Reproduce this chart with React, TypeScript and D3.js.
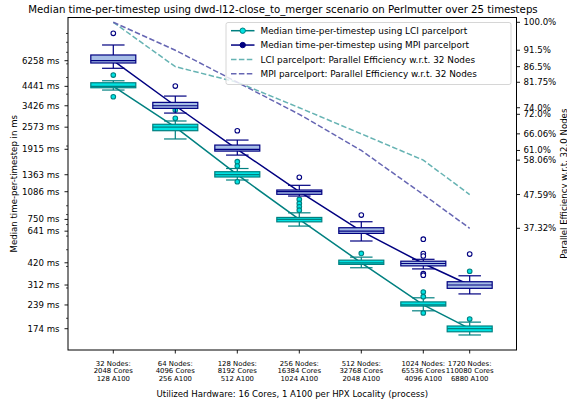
import React from "react";
import * as d3 from "d3";

// ---------- data ----------
const nodes = [32, 64, 128, 256, 512, 1024, 1720];
const cores = [2048, 4096, 8192, 16384, 32768, 65536, 110080];
const gpus = [128, 256, 512, 1024, 2048, 4096, 6880];

const lciMedian = [4441, 2573, 1363, 750, 420, 239, 174];
const lciQ1 = [4359, 2455, 1322, 726, 411, 235.5, 167];
const lciQ3 = [4660, 2675, 1419, 770, 435, 249, 180.4];
const lciWhiskLo = [4227, 2198, 1270, 686, 393, 221, 160];
const lciWhiskHi = [4786, 2795, 1481, 819, 453, 263, 190];
const lciOutliers = [
  [5165, 3864],
  [3238, 2898],
  [1622, 1531, 1241],
  [980, 929, 888, 849],
  [476],
  [284, 267, 215],
  [375, 198],
];

const mpiMedian = [6258, 3426, 1915, 1086, 641, 416, 312];
const mpiQ1 = [6068, 3309, 1869, 1049, 622, 403, 298.5];
const mpiQ3 = [6754, 3585, 2026, 1111, 671, 429, 326];
const mpiWhiskLo = [5654, 3107, 1772, 1025, 562, 387, 277];
const mpiWhiskHi = [7720, 3900, 2166, 1183, 727, 440, 353];
const mpiOutliers = [[9028], [4459], [2453], [1317], [795], [576, 475, 460, 363, 356], [472]];

const lciEff = [100, 86.5, 81.75, 74.0, 66.06, 58.06, 47.59];
const mpiEff = [100, 91.5, 81.75, 72.0, 61.0, 47.59, 37.32];

const timeTicks = [6258, 4441, 3426, 2573, 1915, 1363, 1086, 750, 641, 420, 312, 239, 174];
const effTicks = [100.0, 91.5, 86.5, 81.75, 74.0, 72.0, 66.06, 61.0, 58.06, 47.59, 37.32];
const effTickLabels = ["100.0%", "91.5%", "86.5%", "81.75%", "74.0%", "72.0%", "66.06%", "61.0%", "58.06%", "47.59%", "37.32%"];

const legendLabels = [
  "Median time-per-timestep using LCI parcelport",
  "Median time-per-timestep using MPI parcelport",
  "LCI parcelport: Parallel Efficiency w.r.t. 32 Nodes",
  "MPI parcelport: Parallel Efficiency w.r.t. 32 Nodes",
];

// ---------- layout ----------
const W = 567, H = 403;
const L = 68, R = 516.5, T = 17.5, B = 350;
const FONT = "DejaVu Sans";
const TEAL = "#008080", CYAN = "#00e3e3", NAVY = "#000080", LBLUE = "#a6bde6";
const TEAL_D = "#66b3b3", NAVY_D = "#6666b3";

const x = d3.scaleLinear().domain([5, 10]).range([113.3, 423.3]);
const y = d3.scaleLog().domain([130.9, 11148]).range([B, T]);
const y2 = d3.scaleLinear().domain([0.29, 101.46]).range([B, T]);
const px = (n: number) => x(Math.log2(n));

const BOXW = 45;

function Boxes(props: {
  med: number[]; q1: number[]; q3: number[]; lo: number[]; hi: number[]; out: number[][];
  edge: string; fill: string; outFill: string;
}) {
  const { med, q1, q3, lo, hi, out, edge, fill, outFill } = props;
  return (
    <g>
      {nodes.map((n, i) => {
        const cx = px(n);
        return (
          <g key={i}>
            <line x1={cx} x2={cx} y1={y(q3[i])} y2={y(hi[i])} stroke={edge} strokeWidth={1.2} />
            <line x1={cx} x2={cx} y1={y(q1[i])} y2={y(lo[i])} stroke={edge} strokeWidth={1.2} />
            <line x1={cx - BOXW / 4} x2={cx + BOXW / 4} y1={y(hi[i])} y2={y(hi[i])} stroke={edge} strokeWidth={1.2} />
            <line x1={cx - BOXW / 4} x2={cx + BOXW / 4} y1={y(lo[i])} y2={y(lo[i])} stroke={edge} strokeWidth={1.2} />
            <rect x={cx - BOXW / 2} y={y(q3[i])} width={BOXW} height={y(q1[i]) - y(q3[i])} fill={fill} stroke={edge} strokeWidth={1.2} />
            <line x1={cx - BOXW / 2} x2={cx + BOXW / 2} y1={y(med[i])} y2={y(med[i])} stroke={edge} strokeWidth={1.2} />
            {out[i].map((v, j) => (
              <circle key={j} cx={cx} cy={y(v)} r={2.3} fill={outFill} stroke={edge} strokeWidth={1.1} />
            ))}
          </g>
        );
      })}
    </g>
  );
}

export default function App() {
  const medLine = d3.line<number>().x((_, i) => px(nodes[i])).y((v) => y(v));
  const effLine = d3.line<number>().x((_, i) => px(nodes[i])).y((v) => y2(v));
  const minor = y.ticks().filter((v) => Math.abs(Math.log10(v) - Math.round(Math.log10(v))) > 1e-9);

  return (
    <svg width={W} height={H} style={{ position: "absolute", left: 0, top: 0 }} fontFamily={FONT}>
      <rect width={W} height={H} fill="white" />
      <text x={283} y={12.5} fontSize={10.2} textAnchor="middle">
        Median time-per-timestep using dwd-l12-close_to_merger scenario on Perlmutter over 25 timesteps
      </text>

      {/* median lines */}
      <path d={medLine(lciMedian) || ""} fill="none" stroke={TEAL} strokeWidth={1.5} />
      <path d={medLine(mpiMedian) || ""} fill="none" stroke={NAVY} strokeWidth={1.5} />

      <Boxes med={lciMedian} q1={lciQ1} q3={lciQ3} lo={lciWhiskLo} hi={lciWhiskHi} out={lciOutliers}
        edge={TEAL} fill={CYAN} outFill={CYAN} />
      <Boxes med={mpiMedian} q1={mpiQ1} q3={mpiQ3} lo={mpiWhiskLo} hi={mpiWhiskHi} out={mpiOutliers}
        edge={NAVY} fill={LBLUE} outFill="white" />

      {/* efficiency lines */}
      <path d={effLine(lciEff) || ""} fill="none" stroke={TEAL_D} strokeWidth={1.5} strokeDasharray="5.5,2.4" />
      <path d={effLine(mpiEff) || ""} fill="none" stroke={NAVY_D} strokeWidth={1.5} strokeDasharray="5.5,2.4" />

      {/* frame */}
      <rect x={L} y={T} width={R - L} height={B - T} fill="none" stroke="black" strokeWidth={1} />

      {/* left axis */}
      {minor.map((v, i) => (
        <line key={"m" + i} x1={L - 2} x2={L} y1={y(v)} y2={y(v)} stroke="black" strokeWidth={0.7} />
      ))}
      {timeTicks.map((v, i) => (
        <g key={"t" + i}>
          <line x1={L - 3.5} x2={L} y1={y(v)} y2={y(v)} stroke="black" strokeWidth={0.9} />
          <text x={L - 8.5} y={y(v) + 3} fontSize={8.6} textAnchor="end">{v} ms</text>
        </g>
      ))}
      <text transform={`translate(16.5,${(T + B) / 2}) rotate(-90)`} fontSize={8.6} textAnchor="middle">
        Median time-per-timestep in ms
      </text>

      {/* right axis */}
      {effTicks.map((v, i) => (
        <g key={"e" + i}>
          <line x1={R} x2={R + 3.5} y1={y2(v)} y2={y2(v)} stroke="black" strokeWidth={0.9} />
          <text x={R + 7} y={y2(v) + 3} fontSize={8.6}>{effTickLabels[i]}</text>
        </g>
      ))}
      <text transform={`translate(567,${(T + B) / 2}) rotate(-90)`} fontSize={8.6} textAnchor="middle">
        Parallel Efficiency w.r.t. 32.0 Nodes
      </text>

      {/* x axis */}
      {nodes.map((n, i) => (
        <g key={"x" + i}>
          <line x1={px(n)} x2={px(n)} y1={B} y2={B + 3.5} stroke="black" strokeWidth={0.9} />
          <text x={px(n)} y={365.5} fontSize={6.9} textAnchor="middle">{n} Nodes:</text>
          <text x={px(n)} y={373.2} fontSize={6.9} textAnchor="middle">{cores[i]} Cores</text>
          <text x={px(n)} y={380.9} fontSize={6.9} textAnchor="middle">{gpus[i]} A100</text>
        </g>
      ))}
      <text x={(L + R) / 2} y={397.3} fontSize={8.6} textAnchor="middle">
        Utilized Hardware: 16 Cores, 1 A100 per HPX Locality (process)
      </text>

      {/* legend */}
      <rect x={226} y={22.5} width={285} height={62} rx={2} fill="white" fillOpacity={0.8} stroke="#cccccc" strokeWidth={0.8} />
      {legendLabels.map((lab, i) => {
        const cy = 30.7 + i * 14.35;
        const dashed = i >= 2;
        const col = [TEAL, NAVY, TEAL_D, NAVY_D][i];
        return (
          <g key={"l" + i}>
            <line x1={231} x2={254.5} y1={cy} y2={cy} stroke={col} strokeWidth={1.5}
              strokeDasharray={dashed ? "5.5,2.4" : undefined} />
            {!dashed && (
              <circle cx={242.7} cy={cy} r={2.7} fill={i === 0 ? CYAN : NAVY} stroke={col} strokeWidth={1} />
            )}
            <text x={260.5} y={cy + 3.2} fontSize={8.9}>{lab}</text>
          </g>
        );
      })}
    </svg>
  );
}
